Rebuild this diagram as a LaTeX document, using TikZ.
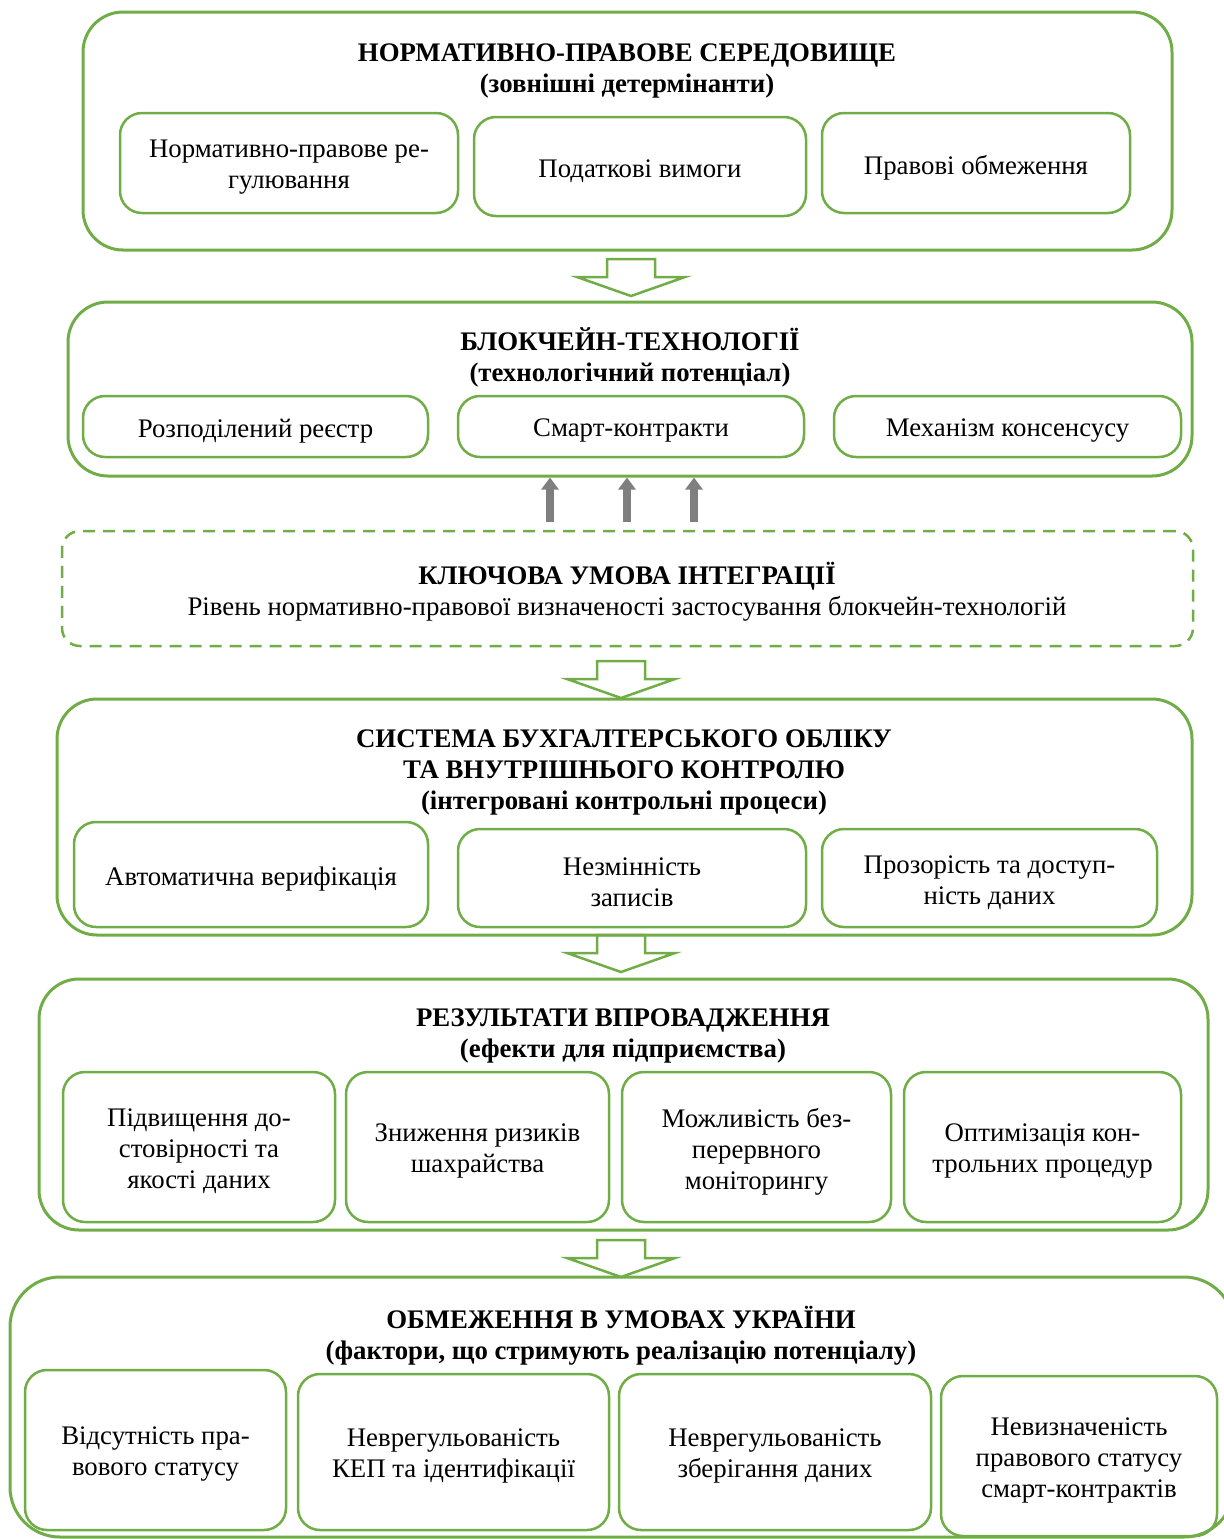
\documentclass[tikz,border=0pt]{standalone}
\usepackage{fontspec}
\setmainfont{Liberation Serif}
\usetikzlibrary{fit,arrows.meta}
\definecolor{grn}{HTML}{70AD47}
\definecolor{arrgray}{HTML}{7F7F7F}
\tikzset{
  downarr/.pic={\draw[grn, line width=1.25pt, line join=miter]
     (-24,0) -- (24,0) -- (24,18) -- (54,18) -- (0,37) -- (-54,18) -- (-24,18) -- cycle;}
}
\newcommand\ibx[6]{%
  \node[ibox, fit={(#2,#3) (#4,#5)}] (#1) {};
  \node[txt] (#1t) at ([yshift=-2.2pt]#1.center) {#6};
}
\begin{document}
\begin{tikzpicture}[x=0.5pt,y=-0.5pt,
  font=\fontsize{13.4}{15.5}\selectfont,
  obox/.style={draw=grn, line width=1.5pt, rounded corners=20pt, inner sep=0pt},
  dbox/.style={draw=grn, line width=1.25pt, rounded corners=9pt, inner sep=0pt, dash pattern=on 6pt off 4pt},
  ibox/.style={draw=grn, line width=1.25pt, rounded corners=11pt, inner sep=0pt},
  ttl/.style={align=center, font=\fontsize{13.4}{15.5}\selectfont\bfseries, inner sep=0pt},
  txt/.style={align=center, inner sep=0pt},
  garrow/.style={draw=arrgray, line width=4pt, -{Triangle[length=6pt,width=8.5pt]}}
]
\useasboundingbox (0,0) rectangle (1224,1539);

% ---------- Box 1
\node[obox, fit={(83,12) (1172,250)}] (b1) {};
\node[ttl] (t1) at (627,71) {НОРМАТИВНО-ПРАВОВЕ СЕРЕДОВИЩЕ\\(зовнішні детермінанти)};
\ibx{a1}{120}{113}{458}{213}{Нормативно-правове ре-\\гулювання}
\ibx{a2}{474}{117}{806}{216}{Податкові вимоги}
\ibx{a3}{822}{113}{1130}{213}{Правові обмеження}

\pic at (631,259) {downarr};

% ---------- Box 2
\node[obox, fit={(68,302) (1192,476)}] (b2) {};
\node[ttl] (t2) at (630,357) {БЛОКЧЕЙН-ТЕХНОЛОГІЇ\\(технологічний потенціал)};
\ibx{bb1}{83}{396}{428}{457}{Розподілений реєстр}
\ibx{bb2}{458}{396}{804}{457}{Смарт-контракти}
\ibx{bb3}{834}{396}{1181}{457}{Механізм консенсусу}

% ---------- gray arrows
\coordinate (g1) at (550,522);
\coordinate (g2) at (627,522);
\coordinate (g3) at (694,522);
\draw[garrow] (g1) -- (g1 |- b2.south);
\draw[garrow] (g2) -- (g2 |- b2.south);
\draw[garrow] (g3) -- (g3 |- b2.south);

% ---------- Dashed box
\node[dbox, fit={(62,531) (1193,646)}] (k) {};
\node[txt] (kt) at (627,592) {\textbf{КЛЮЧОВА УМОВА ІНТЕГРАЦІЇ}\\Рівень нормативно-правової визначеності застосування блокчейн-технологій};

\pic at (621,661) {downarr};

% ---------- Box 3
\node[obox, fit={(57,699) (1192,935)}] (b3) {};
\node[ttl] (t3) at (624,772) {СИСТЕМА БУХГАЛТЕРСЬКОГО ОБЛІКУ\\ТА ВНУТРІШНЬОГО КОНТРОЛЮ\\(інтегровані контрольні процеси)};
\ibx{c1}{74}{822}{428}{927}{Автоматична верифікація}
\ibx{c2}{458}{829}{806}{927}{Незмінність\\записів}
\ibx{c3}{822}{829}{1157}{927}{Прозорість та доступ-\\ність даних}

\pic at (621,935) {downarr};

% ---------- Box 4
\node[obox, fit={(39,979) (1208,1230)}] (b4) {};
\node[ttl] (t4) at (623,1036) {РЕЗУЛЬТАТИ ВПРОВАДЖЕННЯ\\(ефекти для підприємства)};
\ibx{d1}{63}{1072}{335}{1222}{Підвищення до-\\стовірності та\\якості даних}
\ibx{d2}{346}{1072}{609}{1222}{Зниження ризиків\\шахрайства}
\ibx{d3}{622}{1072}{891}{1222}{Можливість без-\\перервного\\моніторингу}
\ibx{d4}{904}{1072}{1181}{1222}{Оптимізація кон-\\трольних процедур}

\pic at (621,1240) {downarr};

% ---------- Box 5
\node[obox, rounded corners=25pt, fit={(10,1277) (1234,1537)}] (b5) {};
\node[ttl] (t5) at (621,1336) {ОБМЕЖЕННЯ В УМОВАХ УКРАЇНИ\\(фактори, що стримують реалізацію потенціалу)};
\ibx{e1}{25}{1370}{286}{1530}{Відсутність пра-\\вового статусу}
\ibx{e2}{298}{1374}{609}{1530}{Неврегульованість\\КЕП та ідентифікації}
\ibx{e3}{619}{1374}{931}{1530}{Неврегульованість\\зберігання даних}
\ibx{e4}{941}{1376}{1217}{1536}{Невизначеність\\правового статусу\\смарт-контрактів}
\end{tikzpicture}
\end{document}
